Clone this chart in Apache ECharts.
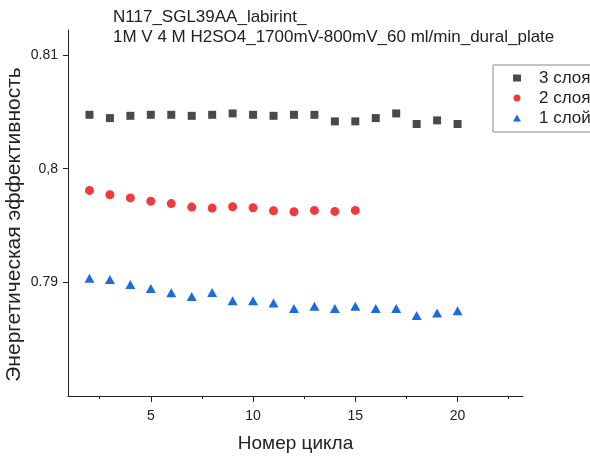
<!DOCTYPE html>
<html>
<head>
<meta charset="utf-8">
<script src="https://cdn.jsdelivr.net/npm/echarts@6/dist/echarts.min.js"></script>
<style>
html,body{margin:0;padding:0;background:#fff;}
#chart{width:590px;height:458px;}
</style>
</head>
<body>
<div id="chart"></div>
<script>
var titleLines = ['N117_SGL39AA_labirint_', '1M V 4 M H2SO4_1700mV-800mV_60 ml/min_dural_plate'];
var xAxisName = 'Номер цикла';
var yAxisName = 'Энергетическая эффективность';
var seriesNames = ['3 слоя', '2 слоя', '1 слой'];

var cycles3 = [2,3,4,5,6,7,8,9,10,11,12,13,14,15,16,17,18,19,20];
var eff3 = [0.80474,0.80445,0.80465,0.80474,0.80474,0.80465,0.80474,0.80486,0.80474,0.80465,0.80474,0.80474,0.80416,0.80416,0.80445,0.80486,0.80393,0.80425,0.80393];

var cycles2 = [2,3,4,5,6,7,8,9,10,11,12,13,14,15];
var eff2 = [0.79809,0.79771,0.79743,0.79714,0.79693,0.79662,0.79653,0.79665,0.79656,0.79630,0.79621,0.79633,0.79624,0.79633];

var cycles1 = [2,3,4,5,6,7,8,9,10,11,12,13,14,15,16,17,18,19,20];
var eff1 = [0.79036,0.79026,0.78980,0.78945,0.78908,0.78876,0.78911,0.78839,0.78839,0.78818,0.78769,0.78789,0.78769,0.78789,0.78769,0.78769,0.78709,0.78731,0.78749];

var xMajorTicks = [5,10,15,20];
var xMinorTicks = [2.5,7.5,12.5,17.5,22.5];
var yTickValues = [0.79, 0.8, 0.81];
var yTickLabels = ['0.79', '0,8', '0.81'];

function pairs(xs, ys){ return xs.map(function(x,i){ return [x, ys[i]]; }); }

var FONT = 'Liberation Sans, Arial, sans-serif';
var chart = echarts.init(document.getElementById('chart'), null, {renderer:'canvas'});
chart.setOption({
  backgroundColor: '#fff',
  animation: false,
  textStyle: {fontFamily: FONT},
  title: {
    text: titleLines.join('\n'),
    left: 113, top: 7,
    padding: 0,
    textStyle: {fontSize: 17, fontWeight: 'normal', color: '#222', lineHeight: 20, fontFamily: FONT}
  },
  legend: {
    orient: 'vertical',
    left: 493, top: 65,
    padding: [3, 40, 4, 20],
    itemGap: 0,
    itemWidth: 8, itemHeight: 7,
    borderColor: '#888', borderWidth: 1,
    data: seriesNames,
    textStyle: {fontSize: 17, color: '#222', lineHeight: 20, padding: [0,0,0,13], fontFamily: FONT}
  },
  grid: {left: 68, right: 67, top: 30, bottom: 57, containLabel: false},
  xAxis: [{
    type: 'value', min: 0.95, max: 23.2,
    name: xAxisName, nameLocation: 'middle', nameGap: 38,
    nameTextStyle: {fontSize: 19, color: '#222', fontFamily: FONT},
    axisLine: {show: true, onZero: false, lineStyle: {color: '#222', width: 1}},
    axisTick: {show: true, customValues: xMajorTicks, length: 6, lineStyle: {color: '#222'}},
    axisLabel: {customValues: xMajorTicks, margin: 13, fontSize: 14, color: '#222', fontFamily: FONT},
    splitLine: {show: false}
  }, {
    type: 'value', min: 0.95, max: 23.2, position: 'bottom',
    axisLine: {show: false},
    axisTick: {show: true, customValues: xMinorTicks, length: 3, lineStyle: {color: '#222'}},
    axisLabel: {show: false},
    splitLine: {show: false}
  }],
  yAxis: {
    type: 'value', min: 0.78, max: 0.8122,
    axisLine: {show: true, onZero: false, lineStyle: {color: '#222', width: 1}},
    axisTick: {show: true, customValues: yTickValues, length: 5, lineStyle: {color: '#222'}},
    axisLabel: {
      customValues: yTickValues, margin: 10, fontSize: 14, color: '#222', fontFamily: FONT,
      formatter: function(v){
        for (var i=0;i<yTickValues.length;i++){ if (Math.abs(v-yTickValues[i])<1e-9) return yTickLabels[i]; }
        return '';
      }
    },
    splitLine: {show: false}
  },
  graphic: [{
    type: 'text',
    x: 14, y: 224.5, rotation: Math.PI/2,
    style: {text: yAxisName, fontSize: 21, fill: '#222', align: 'center', verticalAlign: 'middle', fontFamily: FONT}
  }],
  series: [{
    name: seriesNames[0], type: 'scatter', symbol: 'rect', symbolSize: 8,
    itemStyle: {color: '#4a4a4a', opacity: 1},
    data: pairs(cycles3, eff3)
  }, {
    name: seriesNames[1], type: 'scatter', symbol: 'circle', symbolSize: 9,
    itemStyle: {color: '#ef3b3e', opacity: 1},
    data: pairs(cycles2, eff2)
  }, {
    name: seriesNames[2], type: 'scatter', symbol: 'triangle', symbolSize: [10, 9],
    itemStyle: {color: '#1b6ddc', opacity: 1},
    data: pairs(cycles1, eff1)
  }]
});
</script>
</body>
</html>
